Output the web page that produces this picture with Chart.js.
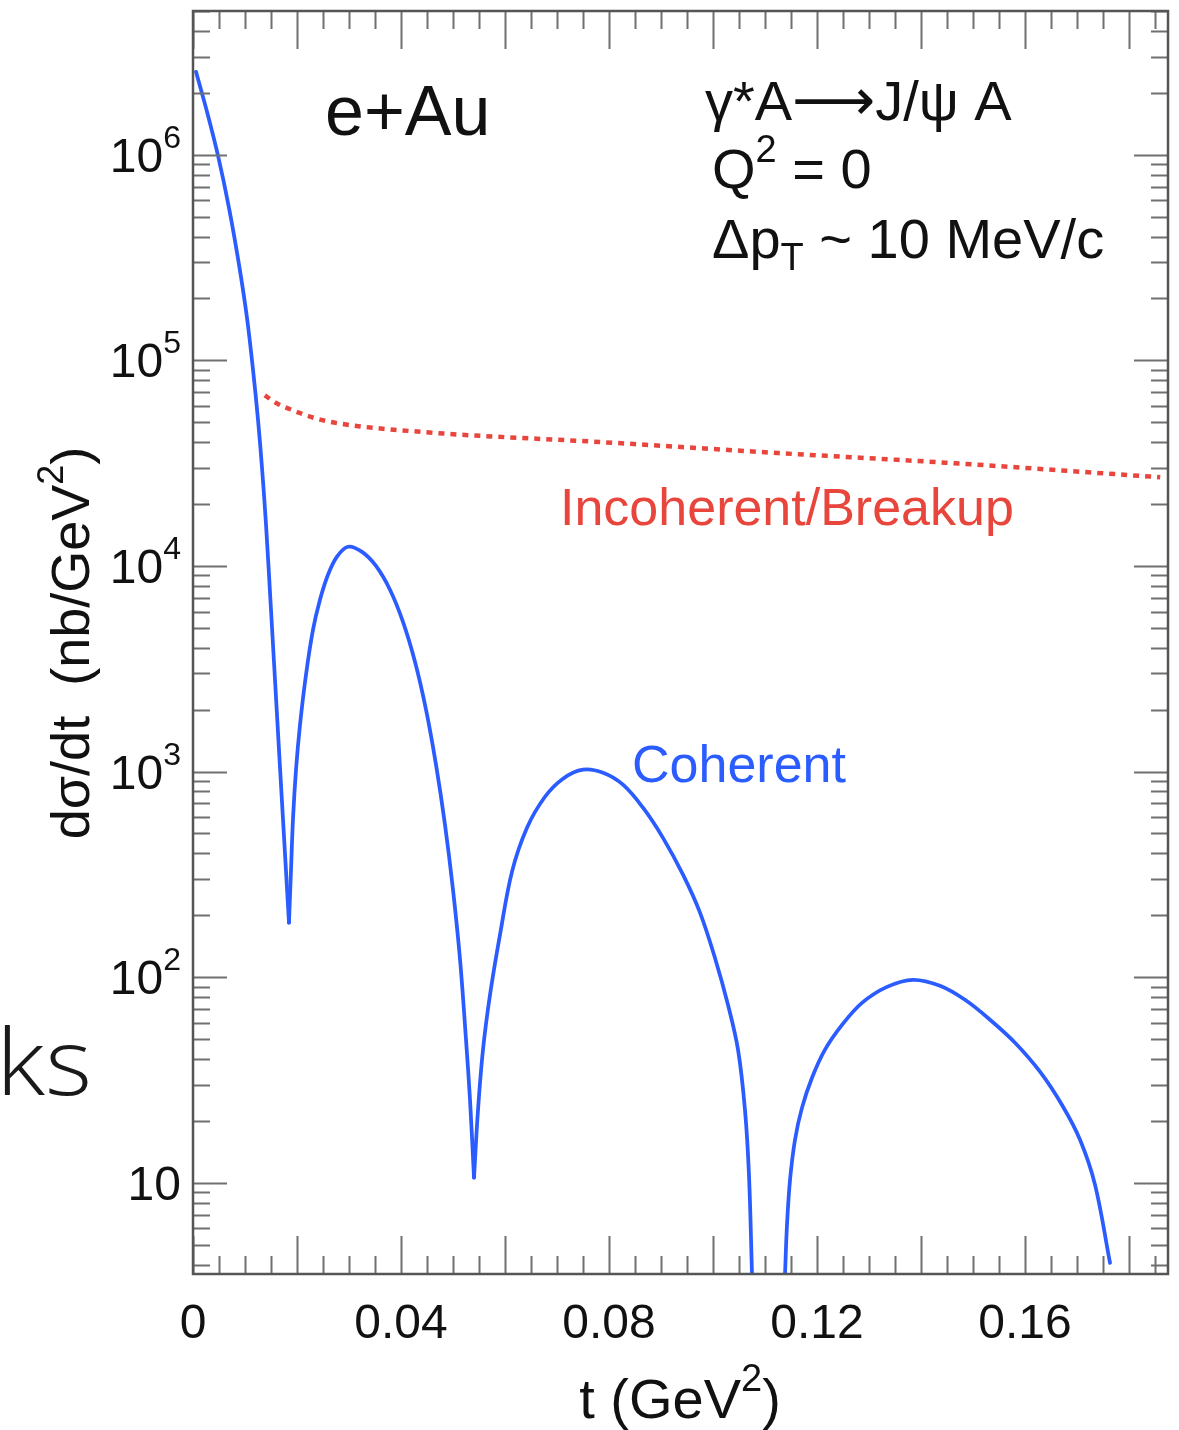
<!DOCTYPE html>
<html>
<head>
<meta charset="utf-8">
<title>J/psi coherent vs incoherent</title>
<script src="https://cdn.jsdelivr.net/npm/chart.js@4.4.1/dist/chart.umd.min.js"></script>
<style>
  html, body { margin: 0; padding: 0; background: #fff; }
  #wrap { position: relative; width: 1179px; height: 1430px; }
</style>
</head>
<body>
<div id="wrap">
  <canvas id="chart" width="1179" height="1430"></canvas>
</div>
<script>
// values (t in GeV^2, dsigma/dt in nb/GeV^2)
const tCoherent = [
  0.00058, 0.00269, 0.00481, 0.00692, 0.00885, 0.01038, 0.01154, 0.01250, 0.01327, 0.01404, 0.01500, 0.01615, 0.01731, 0.01846,
  0.01885, 0.01923, 0.01981, 0.02058, 0.02173, 0.02308, 0.02442, 0.02596, 0.02769, 0.02981, 0.03250, 0.03519, 0.03788,
  0.04038, 0.04269, 0.04481, 0.04673, 0.04846, 0.05000, 0.05135, 0.05250, 0.05327, 0.05404,
  0.05481, 0.05577, 0.05712, 0.05904, 0.06135, 0.06423, 0.06769, 0.07115, 0.07500, 0.07885, 0.08269, 0.08654,
  0.09038, 0.09423, 0.09750, 0.10038, 0.10288, 0.10481, 0.10615, 0.10692, 0.10750,
  0.1105,
  0.11385, 0.11423, 0.11481, 0.11577, 0.11712, 0.11904, 0.12154, 0.12481, 0.12865, 0.13346, 0.13846,
  0.14365, 0.14846, 0.15327, 0.15808, 0.16288, 0.16712, 0.17058, 0.17346, 0.17635
];
const sigmaCoherent = [
  2.53e6, 1.62e6, 9.9e5, 5.52e5, 2.92e5, 1.61e5, 9.0e4, 5.14e4, 3.0e4, 1.59e4, 6.12e3, 1.89e3, 583, 184,
  333, 589, 1021, 1690, 2960, 4900, 6850, 9060, 1.11e4, 1.24e4, 1.17e4, 1.0e4, 7660,
  5350, 3420, 2000, 1080, 551, 266, 122, 49.7, 25.4, 10.6,
  22.6, 44.4, 82.1, 161, 326, 533, 754, 923, 1021, 986, 863, 667,
  476, 315, 206, 124, 73.4, 44.4, 22.6, 10.9, 3.6,
  null,
  3.6, 6.25, 10.3, 16.2, 23.2, 32.4, 44.4, 58.6, 75, 89.7, 97.1,
  90.8, 77.6, 62.1, 48, 34.7, 23.9, 16.2, 9.8, 4.08
];

const tIncoherent = [0.0138, 0.0160, 0.0187, 0.0235, 0.0279, 0.0448, 0.0787, 0.1125, 0.1463, 0.1860];
const sigmaIncoherent = [6.76e4, 6.2e4, 5.78e4, 5.23e4, 4.94e4, 4.47e4, 4.0e4, 3.54e4, 3.16e4, 2.70e4];

const xTickLabels = ['0', '0.04', '0.08', '0.12', '0.16'];
const yTickExponents = [1, 2, 3, 4, 5, 6];

const T_MIN = 0, T_MAX = 0.1875;
const S_MIN = 3.6, S_MAX = 5e6;

const FONT = "'Liberation Sans', Arial, Helvetica, sans-serif";
const BLUE = '#2b5cff';
const RED = '#e8463c';
const AXIS = '#555555';
const TICK = '#707070';

// cut the coherent curve into lobes at its dips (and at gaps) so each lobe can be smoothed
function splitLobes(ts, ss) {
  const segs = [];
  let cur = [];
  for (let i = 0; i < ts.length; i++) {
    if (ss[i] == null) {
      if (cur.length) segs.push(cur);
      cur = [];
      continue;
    }
    cur.push({ x: ts[i], y: ss[i] });
    const isDip = i > 0 && i < ts.length - 1 && ss[i - 1] != null && ss[i + 1] != null &&
      ss[i] < ss[i - 1] && ss[i] < ss[i + 1];
    if (isDip) {
      segs.push(cur);
      cur = [{ x: ts[i], y: ss[i] }];
    }
  }
  if (cur.length) segs.push(cur);
  return segs;
}

function fontOf(p) {
  return (p.weight || '') + ' ' + p.size + 'px ' + (p.family || FONT);
}

function drawRich(ctx, parts, x, y, align, color) {
  let w = 0;
  parts.forEach(p => { ctx.font = fontOf(p); w += ctx.measureText(p.t).width; });
  let cx = x;
  if (align === 'right') cx = x - w;
  else if (align === 'center') cx = x - w / 2;
  ctx.fillStyle = color || '#111';
  ctx.textAlign = 'left';
  ctx.textBaseline = 'alphabetic';
  parts.forEach(p => {
    ctx.font = fontOf(p);
    ctx.fillText(p.t, cx, y + (p.dy || 0));
    cx += ctx.measureText(p.t).width;
  });
}

const frameAndText = {
  id: 'frameAndText',
  afterDraw(chart) {
    const ctx = chart.ctx;
    const xs = chart.scales.x;
    const ys = chart.scales.y;
    const a = chart.chartArea;
    ctx.save();

    // ticks on all four sides
    ctx.strokeStyle = TICK;
    ctx.lineWidth = 2;
    ctx.beginPath();
    for (let i = 0; i * 0.005 <= T_MAX + 1e-9; i++) {
      const px = Math.round(xs.getPixelForValue(i * 0.005)) + 0.5;
      const len = i % 4 === 0 ? 38 : 18;
      ctx.moveTo(px, a.bottom);
      ctx.lineTo(px, a.bottom - len);
      ctx.moveTo(px, a.top);
      ctx.lineTo(px, a.top + len);
    }
    for (let d = 0; d <= 6; d++) {
      for (let k = 1; k <= 9; k++) {
        const v = k * Math.pow(10, d);
        if (v < S_MIN || v > S_MAX) continue;
        const py = Math.round(ys.getPixelForValue(v)) + 0.5;
        const len = k === 1 ? 34 : 17;
        ctx.moveTo(a.left, py);
        ctx.lineTo(a.left + len, py);
        ctx.moveTo(a.right, py);
        ctx.lineTo(a.right - len, py);
      }
    }
    ctx.stroke();

    ctx.strokeStyle = AXIS;
    ctx.lineWidth = 2.5;
    ctx.strokeRect(a.left, a.top, a.right - a.left, a.bottom - a.top);

    // tick labels
    xTickLabels.forEach(lbl => {
      const px = xs.getPixelForValue(parseFloat(lbl));
      drawRich(ctx, [{ t: lbl, size: 48 }], px, a.bottom + 64, 'center');
    });
    yTickExponents.forEach(e => {
      const py = ys.getPixelForValue(Math.pow(10, e));
      const parts = e === 1
        ? [{ t: '10', size: 48 }]
        : [{ t: '10', size: 48 }, { t: String(e), size: 32, dy: -24 }];
      drawRich(ctx, parts, 181, py + 17, 'right');
    });

    // axis titles
    drawRich(ctx, [
      { t: 't (GeV', size: 56 },
      { t: '2', size: 38, dy: -27 },
      { t: ')', size: 56 }
    ], 680, 1418, 'center');

    ctx.save();
    ctx.translate(89, 643);
    ctx.rotate(-Math.PI / 2);
    drawRich(ctx, [
      { t: 'd\u03c3/dt  (nb/GeV', size: 54 },
      { t: '2', size: 36, dy: -26 },
      { t: ')', size: 54 }
    ], 0, 0, 'center');
    ctx.restore();

    // annotations
    drawRich(ctx, [{ t: 'e+Au', size: 70 }], 325, 135, 'left');
    drawRich(ctx, [
      { t: '\u03b3*A', size: 56 },
      { t: '\u27f6', size: 58, family: "'DejaVu Sans', sans-serif" },
      { t: 'J/\u03c8 A', size: 56 }
    ], 705, 120, 'left');
    drawRich(ctx, [
      { t: 'Q', size: 56 },
      { t: '2', size: 38, dy: -26 },
      { t: ' = 0', size: 56 }
    ], 712, 188, 'left');
    drawRich(ctx, [
      { t: '\u0394p', size: 56 },
      { t: 'T', size: 38, dy: 12 },
      { t: ' ~ 10 MeV/c', size: 56 }
    ], 712, 258, 'left');
    drawRich(ctx, [{ t: 'Incoherent/Breakup', size: 52 }], 560, 525, 'left', RED);
    drawRich(ctx, [{ t: 'Coherent', size: 52 }], 632, 782, 'left', BLUE);

    // stray slide text at the left edge
    ctx.save();
    ctx.fillStyle = '#1a1a1a';
    ctx.font = "300 92px 'Open Sans', Lato, sans-serif";
    ctx.textAlign = 'left';
    ctx.translate(-4, 1095);
    ctx.scale(1.1, 1);
    ctx.fillText('ks', 0, 0);
    ctx.restore();

    ctx.restore();
  }
};

const coherentStyle = {
  borderColor: BLUE,
  borderWidth: 3.75,
  borderCapStyle: 'round',
  borderJoinStyle: 'round',
  pointRadius: 0,
  tension: 0.35,
  fill: false,
  clip: 0
};

const coherentSets = splitLobes(tCoherent, sigmaCoherent).map((seg, i) =>
  Object.assign({ label: 'Coherent ' + (i + 1), data: seg }, coherentStyle));

new Chart(document.getElementById('chart'), {
  type: 'line',
  data: {
    datasets: [
      ...coherentSets,
      {
        label: 'Incoherent/Breakup',
        data: tIncoherent.map((t, i) => ({ x: t, y: sigmaIncoherent[i] })),
        borderColor: RED,
        borderWidth: 4.5,
        borderDash: [6, 6],
        pointRadius: 0,
        cubicInterpolationMode: 'monotone',
        fill: false,
        clip: 0
      }
    ]
  },
  options: {
    responsive: false,
    animation: false,
    devicePixelRatio: 1,
    layout: { padding: { left: 193, top: 11, right: 11, bottom: 156 } },
    plugins: {
      legend: { display: false },
      tooltip: { enabled: false }
    },
    scales: {
      x: { type: 'linear', min: T_MIN, max: T_MAX, display: false },
      y: { type: 'logarithmic', min: S_MIN, max: S_MAX, display: false }
    }
  },
  plugins: [frameAndText]
});
</script>
</body>
</html>
